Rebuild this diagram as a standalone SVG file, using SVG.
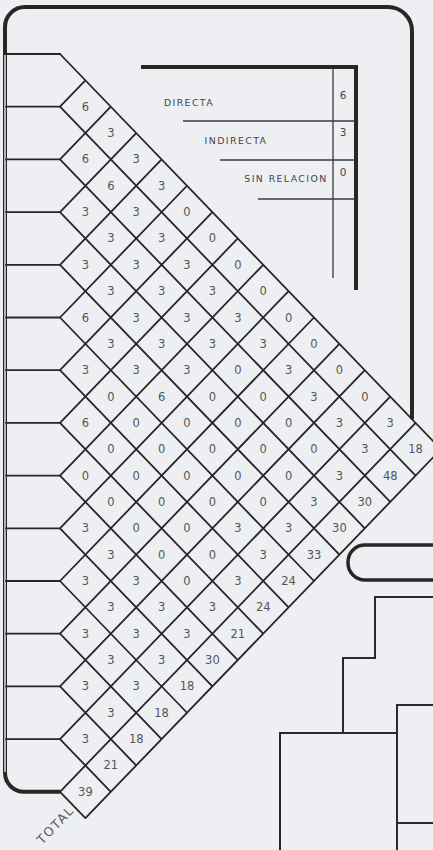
<svg xmlns="http://www.w3.org/2000/svg" width="433" height="850" viewBox="0 0 433 850">
<style>
.bg{fill:#edeff3}
.g{fill:none;stroke:#262626;stroke-width:1.8;stroke-linecap:round}
.th{fill:none;stroke:#2a2626;stroke-width:4;stroke-linecap:butt}
.tn{fill:none;stroke:#3a3a3a;stroke-width:1.3}
.md{fill:none;stroke:#2a2a2a;stroke-width:2}
.c{font-family:"DejaVu Sans",sans-serif;font-size:11.5px;fill:#555;text-anchor:middle}
.lg{font-family:"DejaVu Sans",sans-serif;font-size:9.4px;fill:#444;letter-spacing:1.4px;text-anchor:middle}
.lv{font-family:"DejaVu Sans",sans-serif;font-size:10.5px;fill:#444;text-anchor:middle}
</style>
<rect class="bg" x="0" y="0" width="433" height="850"/>

<g id="frame">
<path class="th" d="M60,791.8 H24 A19,19 0 0 1 5,772.8 V27 A20,20 0 0 1 25,7 H388 A24,24 0 0 1 412,31 V419.2"/>
<line x1="5" y1="55" x2="5" y2="772" stroke="#edeff3" stroke-width="1.4"/>
</g>

<g id="rows">
<path class="g" d="M6,54H60 M6,106.7H60 M6,159.4H60 M6,212.1H60 M6,264.8H60 M6,317.5H60 M6,370.2H60 M6,422.9H60 M6,475.6H60 M6,528.3H60 M6,581H60 M6,633.7H60 M6,686.4H60 M6,739.1H60"/>
</g>

<g id="legend">
<path class="th" d="M141,67 H356 V290"/>
<line class="tn" x1="333" y1="69" x2="333" y2="278"/>
<line class="tn" x1="183" y1="121" x2="355" y2="121"/>
<line class="tn" x1="220" y1="160" x2="355" y2="160"/>
<line class="tn" x1="258" y1="199" x2="355" y2="199"/>
<text class="lg" x="189" y="105.5">DIRECTA</text>
<text class="lg" x="236" y="143.5">INDIRECTA</text>
<text class="lg" x="286" y="181.5">SIN RELACION</text>
<text class="lv" x="343" y="99">6</text>
<text class="lv" x="343" y="136">3</text>
<text class="lv" x="343" y="176">0</text>
</g>

<g id="connectors">
<path class="g" d="
M60,54 L441,449.25
M60,106.7 L415.6,475.6
M60,159.4 L390.2,501.95
M60,212.1 L364.8,528.3
M60,264.8 L339.4,554.65
M60,317.5 L314,581
M60,370.2 L288.6,607.35
M60,422.9 L263.2,633.7
M60,475.6 L237.8,660.05
M60,528.3 L212.4,686.4
M60,581 L187,712.75
M60,633.7 L161.6,739.1
M60,686.4 L136.2,765.45
M60,739.1 L110.8,791.8
M60,791.8 L85.4,818.15
M60,106.7 L85.4,80.35
M60,159.4 L110.8,106.7
M60,212.1 L136.2,133.05
M60,264.8 L161.6,159.4
M60,317.5 L187,185.75
M60,370.2 L212.4,212.1
M60,422.9 L237.8,238.45
M60,475.6 L263.2,264.8
M60,528.3 L288.6,291.15
M60,581 L314,317.5
M60,633.7 L339.4,343.85
M60,686.4 L364.8,370.2
M60,739.1 L390.2,396.55
M60,791.8 L415.6,422.9
M85.4,818.15 L441,449.25"/>
</g>

<g id="cells">
<text class="c" x="85.4" y="110.7">6</text>
<text class="c" x="110.8" y="137">3</text>
<text class="c" x="85.4" y="163.4">6</text><text class="c" x="136.2" y="163.4">3</text>
<text class="c" x="110.8" y="189.7">6</text><text class="c" x="161.6" y="189.7">3</text>
<text class="c" x="85.4" y="216.1">3</text><text class="c" x="136.2" y="216.1">3</text><text class="c" x="187" y="216.1">0</text>
<text class="c" x="110.8" y="242.4">3</text><text class="c" x="161.6" y="242.4">3</text><text class="c" x="212.4" y="242.4">0</text>
<text class="c" x="85.4" y="268.8">3</text><text class="c" x="136.2" y="268.8">3</text><text class="c" x="187" y="268.8">3</text><text class="c" x="237.8" y="268.8">0</text>
<text class="c" x="110.8" y="295.1">3</text><text class="c" x="161.6" y="295.1">3</text><text class="c" x="212.4" y="295.1">3</text><text class="c" x="263.2" y="295.1">0</text>
<text class="c" x="85.4" y="321.5">6</text><text class="c" x="136.2" y="321.5">3</text><text class="c" x="187" y="321.5">3</text><text class="c" x="237.8" y="321.5">3</text><text class="c" x="288.6" y="321.5">0</text>
<text class="c" x="110.8" y="347.8">3</text><text class="c" x="161.6" y="347.8">3</text><text class="c" x="212.4" y="347.8">3</text><text class="c" x="263.2" y="347.8">3</text><text class="c" x="314" y="347.8">0</text>
<text class="c" x="85.4" y="374.2">3</text><text class="c" x="136.2" y="374.2">3</text><text class="c" x="187" y="374.2">3</text><text class="c" x="237.8" y="374.2">0</text><text class="c" x="288.6" y="374.2">3</text><text class="c" x="339.4" y="374.2">0</text>
<text class="c" x="110.8" y="400.5">0</text><text class="c" x="161.6" y="400.5">6</text><text class="c" x="212.4" y="400.5">0</text><text class="c" x="263.2" y="400.5">0</text><text class="c" x="314" y="400.5">3</text><text class="c" x="364.8" y="400.5">0</text>
<text class="c" x="85.4" y="426.9">6</text><text class="c" x="136.2" y="426.9">0</text><text class="c" x="187" y="426.9">0</text><text class="c" x="237.8" y="426.9">0</text><text class="c" x="288.6" y="426.9">0</text><text class="c" x="339.4" y="426.9">3</text><text class="c" x="390.2" y="426.9">3</text>
<text class="c" x="110.8" y="453.2">0</text><text class="c" x="161.6" y="453.2">0</text><text class="c" x="212.4" y="453.2">0</text><text class="c" x="263.2" y="453.2">0</text><text class="c" x="314" y="453.2">0</text><text class="c" x="364.8" y="453.2">3</text><text class="c" x="415.6" y="453.2">18</text>
<text class="c" x="85.4" y="479.6">0</text><text class="c" x="136.2" y="479.6">0</text><text class="c" x="187" y="479.6">0</text><text class="c" x="237.8" y="479.6">0</text><text class="c" x="288.6" y="479.6">0</text><text class="c" x="339.4" y="479.6">3</text><text class="c" x="390.2" y="479.6">48</text>
<text class="c" x="110.8" y="505.9">0</text><text class="c" x="161.6" y="505.9">0</text><text class="c" x="212.4" y="505.9">0</text><text class="c" x="263.2" y="505.9">0</text><text class="c" x="314" y="505.9">3</text><text class="c" x="364.8" y="505.9">30</text>
<text class="c" x="85.4" y="532.3">3</text><text class="c" x="136.2" y="532.3">0</text><text class="c" x="187" y="532.3">0</text><text class="c" x="237.8" y="532.3">3</text><text class="c" x="288.6" y="532.3">3</text><text class="c" x="339.4" y="532.3">30</text>
<text class="c" x="110.8" y="558.6">3</text><text class="c" x="161.6" y="558.6">0</text><text class="c" x="212.4" y="558.6">0</text><text class="c" x="263.2" y="558.6">3</text><text class="c" x="314" y="558.6">33</text>
<text class="c" x="85.4" y="585">3</text><text class="c" x="136.2" y="585">3</text><text class="c" x="187" y="585">0</text><text class="c" x="237.8" y="585">3</text><text class="c" x="288.6" y="585">24</text>
<text class="c" x="110.8" y="611.3">3</text><text class="c" x="161.6" y="611.3">3</text><text class="c" x="212.4" y="611.3">3</text><text class="c" x="263.2" y="611.3">24</text>
<text class="c" x="85.4" y="637.7">3</text><text class="c" x="136.2" y="637.7">3</text><text class="c" x="187" y="637.7">3</text><text class="c" x="237.8" y="637.7">21</text>
<text class="c" x="110.8" y="664">3</text><text class="c" x="161.6" y="664">3</text><text class="c" x="212.4" y="664">30</text>
<text class="c" x="85.4" y="690.4">3</text><text class="c" x="136.2" y="690.4">3</text><text class="c" x="187" y="690.4">18</text>
<text class="c" x="110.8" y="716.7">3</text><text class="c" x="161.6" y="716.7">18</text>
<text class="c" x="85.4" y="743.1">3</text><text class="c" x="136.2" y="743.1">18</text>
<text class="c" x="110.8" y="769.4">21</text>
<text class="c" x="85.4" y="795.8">39</text>
<text x="75" y="811" transform="rotate(-46 75 811)" font-family="DejaVu Sans, sans-serif" font-size="12.5" fill="#555" letter-spacing="1.5" text-anchor="end">TOTAL</text>
</g>

<g id="right-blocks">
<rect x="348" y="545" width="130" height="35" rx="17" ry="17" fill="none" stroke="#2a2626" stroke-width="3.5"/>
<path class="md" d="M440,597 H375 V658 H343 V733 M280,850 V733 H397 M397,850 V705 H440 M397,823 H440"/>
</g>
</svg>
